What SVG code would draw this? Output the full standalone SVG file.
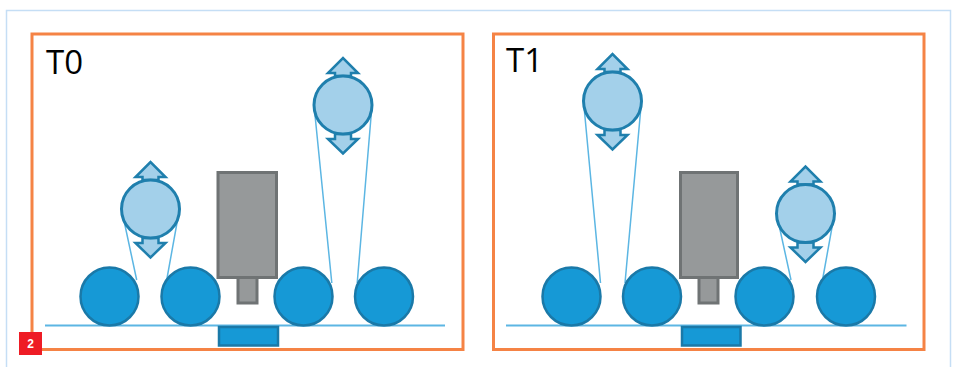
<svg xmlns="http://www.w3.org/2000/svg" xmlns:xlink="http://www.w3.org/1999/xlink" width="957" height="367" viewBox="0 0 957 367">
<style>
.frame{fill:none;stroke:#f58345;stroke-width:3}
.outer{fill:none;stroke:#c5def5;stroke-width:1.5}
.label{font-family:"Open Sans","Liberation Sans",sans-serif;font-size:33px;fill:#000}
.roller{fill:#1699d6;stroke:#1a79a8;stroke-width:2.5}
.dancer{fill:#a3d0ea;stroke:#1f7fad;stroke-width:3}
.arrow{fill:#a3d0ea;stroke:#1f7fad;stroke-width:2.5;stroke-linejoin:miter}
.head{fill:#96999a;stroke:#6f7374;stroke-width:3}
.plate{fill:#1699d6;stroke:#1a79a8;stroke-width:2.5}
.web{fill:none;stroke:#5cb6e3;stroke-width:2}
.belt{fill:none;stroke:#5cb6e3;stroke-width:1.5}
.badge{fill:#ee1c25}
.badgetext{font-family:"Liberation Sans",sans-serif;font-size:12px;font-weight:bold;fill:#fff;text-anchor:middle}
</style>
<defs>
<g id="dancer-shape">
<path class="arrow" d="M-8,-29V-32H-15L0,-47L15,-32H8V-29Z"/>
<path class="arrow" d="M-8,29V34H-15L0,48.500L15,34H8V29Z"/>
<circle class="dancer" r="29"/>
</g>
</defs>
<path id="outer-border" class="outer" d="M6.500,367V10.500H950.500V367"/>
<g id="connectors">
<path class="web" d="M45,325.500H445"/>
<path class="web" d="M506,325.500H906.500"/>
<path class="belt" d="M121.500,209L136.700,280M179.500,209L166.700,280"/>
<path class="belt" d="M314,105L331.800,283M372,105L357.200,283"/>
<path class="belt" d="M583.500,101L600.500,283M641.500,101L625,283"/>
<path class="belt" d="M776.500,213.500L791,280M834.500,213.500L822.500,280"/>
</g>
<g id="panel-t0">
<rect class="frame" x="32" y="34" width="431" height="315.500"/>
<text class="label" x="46" y="74">T0</text>
</g>
<g id="panel-t1">
<rect class="frame" x="493.500" y="34" width="430.500" height="315.500"/>
<text class="label" x="506" y="72">T1</text>
</g>
<g id="t0-roller-1"><circle class="roller" cx="109.500" cy="296.500" r="29"/></g>
<g id="t0-roller-2"><circle class="roller" cx="190.500" cy="296.500" r="29"/></g>
<g id="t0-roller-3"><circle class="roller" cx="303.500" cy="296.500" r="29"/></g>
<g id="t0-roller-4"><circle class="roller" cx="384" cy="296.500" r="29"/></g>
<g id="t0-dancer-1"><use xlink:href="#dancer-shape" href="#dancer-shape" x="150.500" y="209"/></g>
<g id="t0-dancer-2"><use xlink:href="#dancer-shape" href="#dancer-shape" x="343" y="105"/></g>
<g id="t0-head"><rect class="head" x="238" y="277" width="19" height="26"/><rect class="head" x="218" y="172.500" width="58.500" height="105"/></g>
<g id="t0-plate"><rect class="plate" x="219" y="327" width="59" height="18.500"/></g>
<g id="t1-roller-1"><circle class="roller" cx="571.500" cy="296.500" r="29"/></g>
<g id="t1-roller-2"><circle class="roller" cx="652" cy="296.500" r="29"/></g>
<g id="t1-roller-3"><circle class="roller" cx="764.500" cy="296.500" r="29"/></g>
<g id="t1-roller-4"><circle class="roller" cx="846" cy="296.500" r="29"/></g>
<g id="t1-dancer-1"><use xlink:href="#dancer-shape" href="#dancer-shape" x="612.500" y="101"/></g>
<g id="t1-dancer-2"><use xlink:href="#dancer-shape" href="#dancer-shape" x="805.500" y="213.500"/></g>
<g id="t1-head"><rect class="head" x="699" y="277" width="19" height="26"/><rect class="head" x="680.500" y="172.500" width="57" height="105"/></g>
<g id="t1-plate"><rect class="plate" x="682" y="327" width="58.500" height="18.500"/></g>
<g id="badge"><rect class="badge" x="19" y="332" width="23" height="23"/><text class="badgetext" x="30.500" y="348">2</text></g>
</svg>
